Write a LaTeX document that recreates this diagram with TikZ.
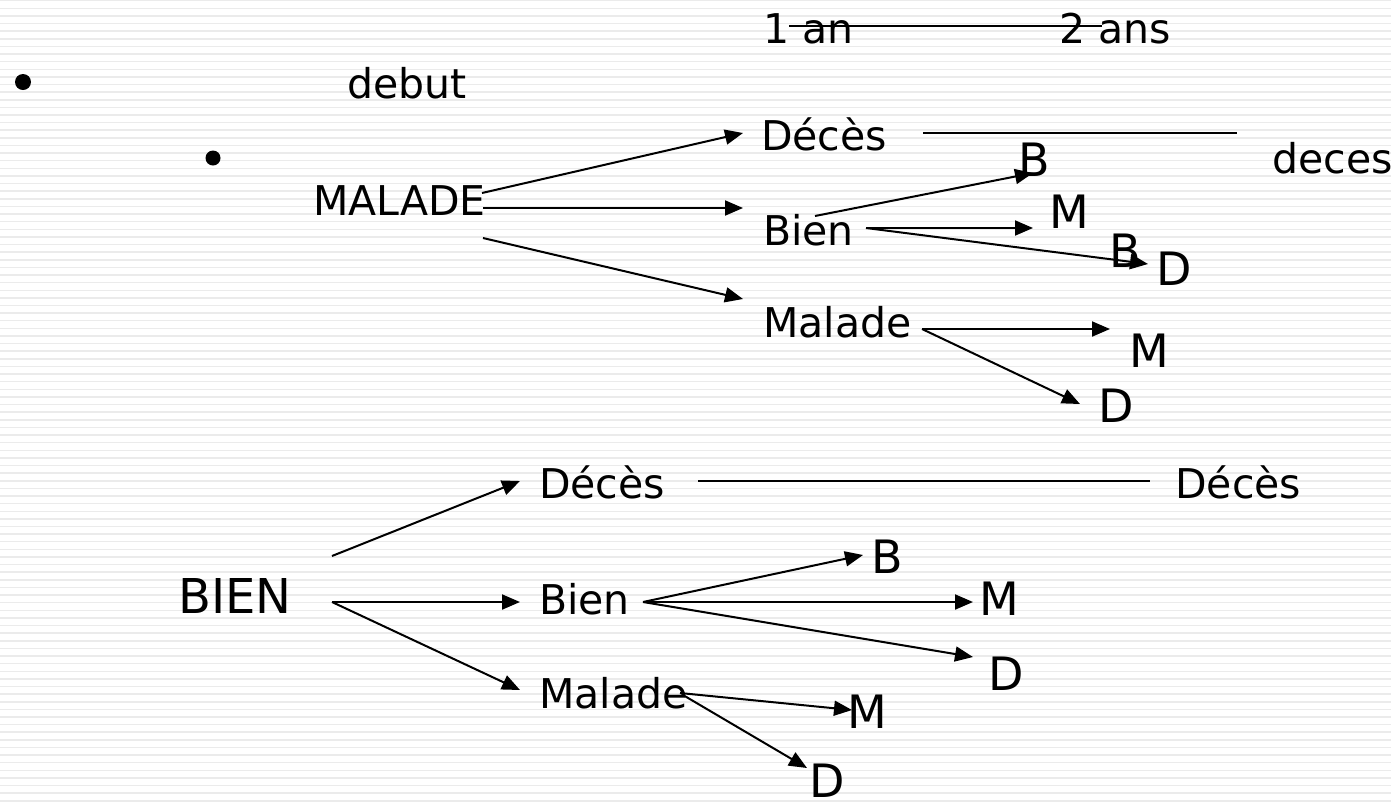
\documentclass[tikz,border=0pt]{standalone}
\usepackage{fontspec}
\setmainfont{DejaVu Sans}
\usetikzlibrary{arrows.meta}

\begin{document}
\begin{tikzpicture}[
    x=1pt, y=-1pt,
    txt/.style={anchor=base west, inner sep=0pt, font=\fontsize{41}{49}\selectfont},
    letter/.style={anchor=base west, inner sep=0pt, font=\fontsize{46}{55}\selectfont},
    big/.style={anchor=base west, inner sep=0pt, font=\fontsize{48}{58}\selectfont},
    dot/.style={circle, fill=black, inner sep=0pt, minimum size=16pt},
    stripe/.style={draw=gray!16, line width=1.5pt},
    link/.style={line width=2pt},
    arrow/.style={-{Triangle[length=18pt,width=15pt]}, line width=2pt}
]
\useasboundingbox (0,0) rectangle (1391,807);

% Background stripes
\fill[white] (0,0) rectangle (1391,807);
\foreach \k in {0,...,105}
    \draw[stripe] (0,{0.7+7.62*\k}) -- (1391,{0.7+7.62*\k});

% Bullets
\node[dot] (bul1) at (23,82) {};
\node[dot, minimum size=15pt] (bul2) at (213,158) {};

% Time axis
\node[txt] (an1) at (763,43) {1 an};
\node[txt] (an2) at (1059,43) {2 ans};
\node[txt] (debut) at (347,98) {debut};

% Upper tree
\node[txt] (MAL) at (313,215) {MALADE};
\node[txt] (dec1) at (761,150) {Décès};
\node[txt] (bien1) at (763,245) {Bien};
\node[txt] (mal1) at (763,337) {Malade};
\node[txt] (deces) at (1272,173) {deces};
\node[letter] (B1) at (1018,176) {B};
\node[letter] (M1) at (1049,228) {M};
\node[letter] (B2) at (1109,267) {B};
\node[letter] (D1) at (1156,285) {D};
\node[letter] (M2) at (1129,367) {M};
\node[letter] (D2) at (1098,422) {D};

% Lower tree
\node[big] (BIEN) at (178,613) {BIEN};
\node[txt] (dec2) at (539,498) {Décès};
\node[txt] (dec3) at (1175,498) {Décès};
\node[txt] (bien2) at (539,614) {Bien};
\node[txt] (mal2) at (539,708) {Malade};
\node[letter] (B3) at (871,573) {B};
\node[letter] (M3) at (979,615) {M};
\node[letter] (D3) at (988,690) {D};
\node[letter] (M4) at (847,728) {M};
\node[letter] (D4) at (809,797) {D};

% Plain lines
\draw[link] ([shift={(26,-17)}]an1.base west) -- ([shift={(43,-17)}]an2.base west);
\draw[link] ([shift={(162,-17)}]dec1.base west) -- ([shift={(-35,-40)}]deces.base west);
\draw[link] ([shift={(159,-17)}]dec2.base west) -- ([shift={(-25,-17)}]dec3.base west);

% Arrows, upper tree
\draw[arrow] ([shift={(169,-22)}]MAL.base west) -- ([shift={(-18,-17)}]dec1.base west);
\draw[arrow] ([shift={(170,-7)}]MAL.base west) -- ([shift={(-20,-37)}]bien1.base west);
\draw[arrow] ([shift={(170,23)}]MAL.base west) -- ([shift={(-20,-38)}]mal1.base west);
\draw[arrow] ([shift={(52,-29)}]bien1.base west) -- ([shift={(15,-3)}]B1.base west);
\draw[arrow] ([shift={(103,-17)}]bien1.base west) -- ([shift={(-16,0)}]M1.base west);
\draw[arrow] ([shift={(103,-17)}]bien1.base west) -- ([shift={(-8,-21)}]D1.base west);
\draw[arrow] ([shift={(159,-8)}]mal1.base west) -- ([shift={(-19,-38)}]M2.base west);
\draw[arrow] ([shift={(159,-8)}]mal1.base west) -- ([shift={(-18,-18)}]D2.base west);

% Arrows, lower tree
\draw[arrow] ([shift={(154,-57)}]BIEN.base west) -- ([shift={(-19,-17)}]dec2.base west);
\draw[arrow] ([shift={(154,-11)}]BIEN.base west) -- ([shift={(-19,-12)}]bien2.base west);
\draw[arrow] ([shift={(154,-11)}]BIEN.base west) -- ([shift={(-19,-18)}]mal2.base west);
\draw[arrow] ([shift={(104,-12)}]bien2.base west) -- ([shift={(-8,-18)}]B3.base west);
\draw[arrow] ([shift={(104,-12)}]bien2.base west) -- ([shift={(-6,-13)}]M3.base west);
\draw[arrow] ([shift={(104,-12)}]bien2.base west) -- ([shift={(-15,-33)}]D3.base west);
\draw[arrow] ([shift={(141,-15)}]mal2.base west) -- ([shift={(5,-18)}]M4.base west);
\draw[arrow] ([shift={(144,-13)}]mal2.base west) -- ([shift={(-2,-29)}]D4.base west);

\end{tikzpicture}
\end{document}
